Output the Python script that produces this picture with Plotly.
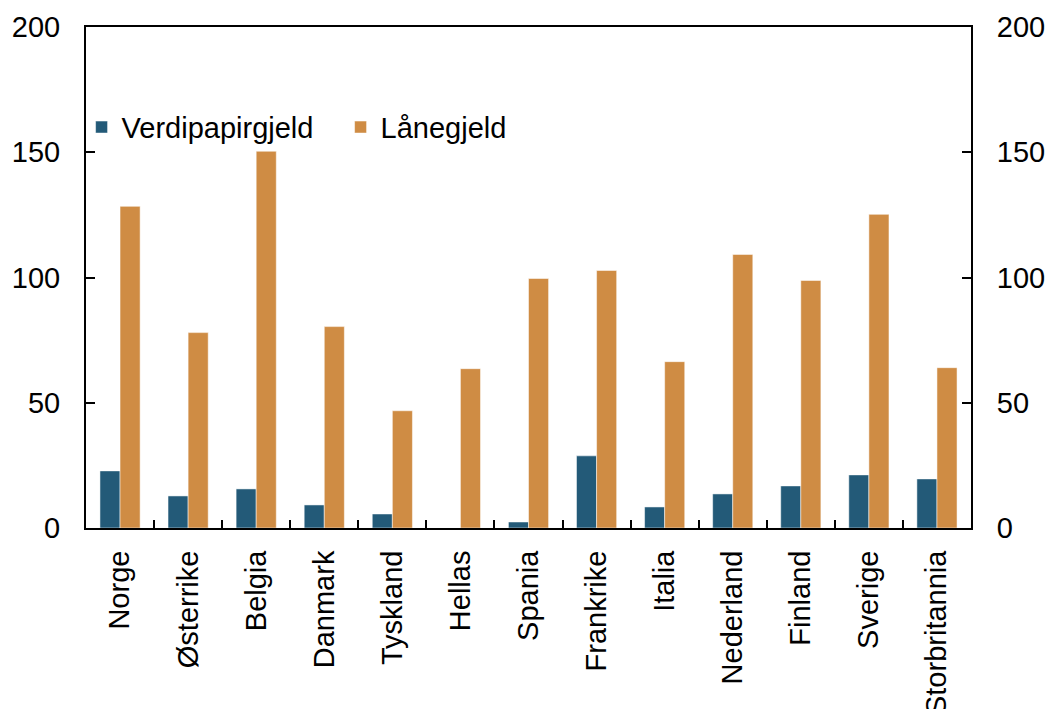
import plotly.graph_objects as go

countries = ["Norge", "Østerrike", "Belgia", "Danmark", "Tyskland", "Hellas", "Spania",
             "Frankrike", "Italia", "Nederland", "Finland", "Sverige", "Storbritannia"]
verdipapirgjeld = [22.8, 12.8, 15.6, 9.2, 5.6, 0.0, 2.4, 28.8, 8.4, 13.6, 16.8, 21.2, 19.6]
lanegjeld = [128.4, 78.0, 150.4, 80.4, 46.8, 63.6, 99.6, 102.8, 66.4, 109.2, 98.8, 125.2, 64.0]
yticks = [0, 50, 100, 150, 200]

FONT = "Liberation Sans, Arial, sans-serif"
FS = 29

fig = go.Figure()
fig.add_trace(go.Bar(x=countries, y=verdipapirgjeld, name="Verdipapirgjeld",
                     marker=dict(color="#235a78", line=dict(color="#ffffff", width=0.5))))
fig.add_trace(go.Bar(x=countries, y=lanegjeld, name="Lånegjeld",
                     marker=dict(color="#cf8c44", line=dict(color="#ffffff", width=0.5))))
# helper so the right-hand axis is drawn (no visible marks)
fig.add_trace(go.Scatter(x=countries, y=lanegjeld, yaxis="y2", mode="none",
                         showlegend=False, hoverinfo="skip"))

axis_common = dict(range=[0, 200], tickvals=yticks, ticks="inside", ticklen=9,
                   tickwidth=1.5, tickcolor="black", showgrid=False, zeroline=False,
                   showline=True, linecolor="black", linewidth=2, automargin=False,
                   ticklabelstandoff=18,
                   tickfont=dict(family=FONT, size=FS, color="black"))

fig.update_layout(
    width=1049, height=709,
    margin=dict(l=86, r=78, t=27, b=181),
    paper_bgcolor="white", plot_bgcolor="white",
    barmode="group", bargap=0.41, bargroupgap=0,
    font=dict(family=FONT, size=FS, color="black"),
    xaxis=dict(type="category", tickangle=-90, ticks="inside", tickson="boundaries",
               ticklen=8, tickwidth=1.5, tickcolor="black", showline=True,
               linecolor="black", linewidth=2, mirror=True, showgrid=False,
               automargin=False, ticklabelstandoff=9,
               tickfont=dict(family=FONT, size=FS, color="black")),
    yaxis=dict(side="left", **axis_common),
    yaxis2=dict(side="right", overlaying="y", anchor="x", **axis_common),
    legend=dict(orientation="h", x=-0.005, y=0.80, xanchor="left", yanchor="middle",
                bgcolor="rgba(0,0,0,0)", font=dict(family=FONT, size=FS, color="black"),
                itemwidth=30, entrywidth=214, tracegroupgap=0),
    showlegend=True,
)

fig.write_html("out.html", config={"displayModeBar": False},
               post_script="document.body.style.margin='0';document.body.style.overflow='hidden';")
